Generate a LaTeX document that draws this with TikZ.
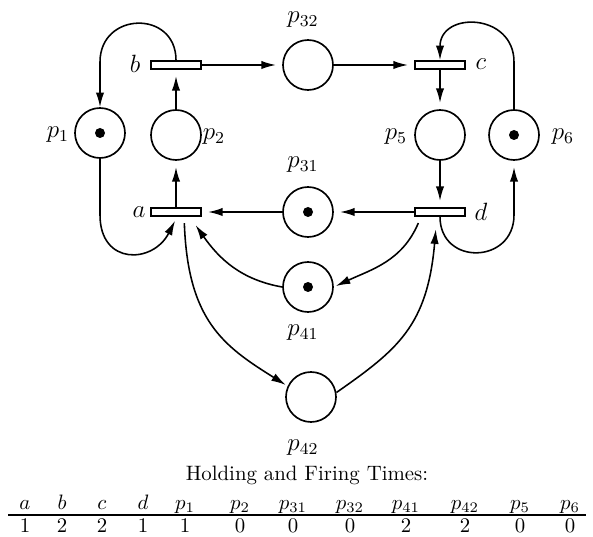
\documentclass[tikz,border=0pt]{standalone}
\usepackage{amsmath}
\usepackage{tikz}
\usetikzlibrary{positioning}
\usetikzlibrary{calc}
\usetikzlibrary{arrows.meta}

\begin{document}
\begin{tikzpicture}[x=0.48pt, y=-0.48pt,
    place/.style={circle, draw, line width=0.8pt, minimum size=24pt, inner sep=0pt},
    token/.style={path picture={\fill (path picture bounding box.center) circle (2.4pt);}},
    trans/.style={rectangle, draw, line width=0.8pt, minimum width=24pt, minimum height=3.8pt, inner sep=0pt},
    lbl/.style={font=\large, inner sep=0pt},
    arc/.style={line width=0.75pt, -{Latex[length=7pt,width=4pt]}, shorten >=3pt}]
    \useasboundingbox (0,0) rectangle (593,537);

    % places and transitions
    \node[place, token] (p1) at (100,133) {};
    \node[place] (p2) at (176,135) {};
    \node[place] (p32) at (308,65) {};
    \node[place] (p5) at (440,135) {};
    \node[place, token] (p6) at (514,135) {};
    \node[place, token] (p31) at (308,212) {};
    \node[place, token] (p41) at (308,287) {};
    \node[place] (p42) at (311,397) {};

    \node[trans] (a) at (176,212) {};
    \node[trans] (b) at (176,65) {};
    \node[trans] (c) at (440,65) {};
    \node[trans] (d) at (440,212) {};

    \node[lbl] (la) at (139,212) {$a$};
    \node[lbl] (lb) at (135,64) {$b$};
    \node[lbl] (lc) at (481,64) {$c$};
    \node[lbl] (ld) at (481,212) {$d$};
    \node[lbl] (lp1) at (58,135) {$p_1$};
    \node[lbl] (lp2) at (214,137) {$p_2$};
    \node[lbl] (lp5) at (396,137) {$p_5$};
    \node[lbl] (lp6) at (563,137) {$p_6$};
    \node[lbl] (lp32) at (303,20) {$p_{32}$};
    \node[lbl] (lp31) at (303,165) {$p_{31}$};
    \node[lbl] (lp41) at (303,333) {$p_{41}$};
    \node[lbl] (lp42) at (303,448) {$p_{42}$};

    \coordinate (bloop) at (100,62);
    \coordinate (cloop) at (514,62);
    \coordinate (aloop) at (100,215);
    \coordinate (dloop) at (514,215);

    % arcs
    \draw[arc] (b.east) -- (p32);
    \draw[arc] (p32) -- (c.west);
    \draw[arc] (p2) -- (b.south);
    \draw[arc] (a.north) -- (p2);
    \draw[arc] (c.south) -- (p5);
    \draw[arc] (p5) -- (d.north);
    \draw[arc] (d.west) -- (p31);
    \draw[arc] (p31) -- (a.east);
    \draw[arc, shorten >=0pt] (b.north) to[out=90, in=90, looseness=1.7] (bloop) -- (p1.north);
    \draw[arc, shorten >=0pt] (p6.north) -- (cloop) to[out=90, in=90, looseness=1.7] (c.north);
    \draw[arc, shorten >=1pt] (p1.south) -- (aloop) to[out=-90, in=-117, looseness=1.7] ([yshift=-1pt]a.south);
    \draw[arc] (d.south) to[out=-90, in=-90, looseness=1.7] (dloop) -- (p6.south);
    \draw[arc, shorten >=1pt] ([xshift=2pt,yshift=-3pt]d.south west) to[out=-113, in=25] (p41.east);
    \draw[arc, shorten >=0pt] (p41.west) to[out=170, in=-55] ([xshift=-3pt,yshift=-4pt]a.south east);
    \draw[arc, shorten >=1pt] ([xshift=4pt,yshift=-3pt]a.south) to[out=-88, in=148, out looseness=1.3] (p42.155);
    \draw[arc, shorten >=0pt] (p42.10) to[out=35, in=-95, in looseness=1.3] ([xshift=-2pt,yshift=-6pt]d.south);

    % times
    \node[anchor=base] (title) at (307,480) {Holding and Firing Times:};
    \foreach \x/\h/\v [count=\i] in {25/a/1, 62/b/2, 102/c/2, 143/d/1, 185/p_1/1, 240/p_2/0,
        293/p_{31}/0, 350/p_{32}/0, 406/p_{41}/2, 465/p_{42}/2, 520/p_5/0, 570/p_6/0} {
        \node[anchor=base, inner sep=0pt] (h\i) at (\x,509) {$\h$};
        \node[anchor=base, inner sep=0pt] (v\i) at (\x,532) {$\v$};
    }
    \draw[line width=0.6pt] (8,515) -- (586,515);
\end{tikzpicture}
\end{document}
